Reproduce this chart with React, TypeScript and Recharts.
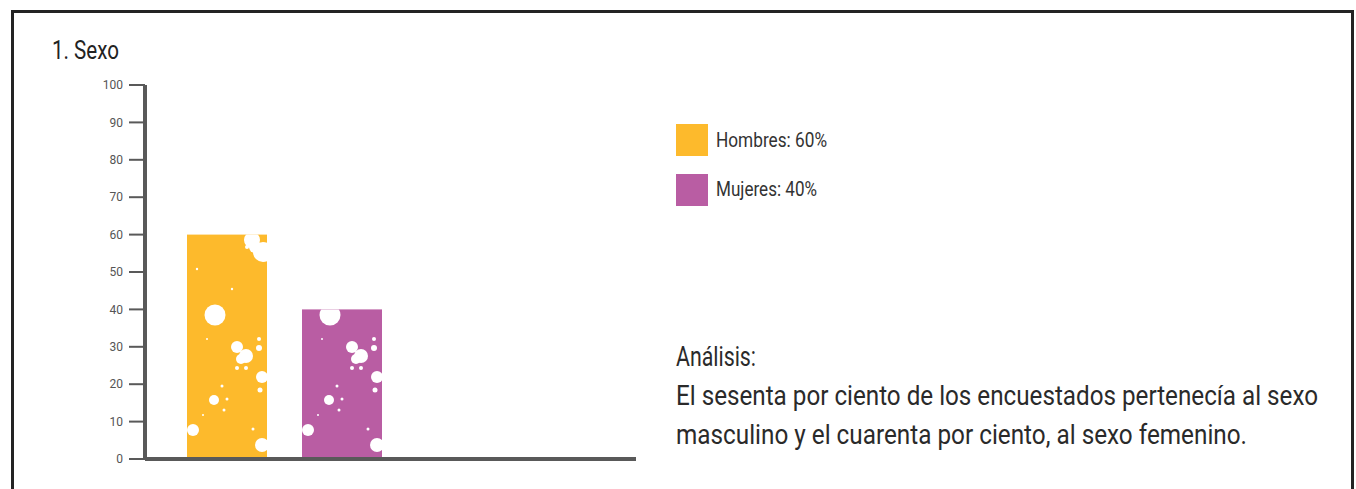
import { Bar, BarChart, XAxis, YAxis } from "recharts";

const grupo = "Sexo";
const series = ["Hombres", "Mujeres"];
const valores = [60, 40];
const colores = ["#FDBA2C", "#B95DA3"];
const yTicks = [0, 10, 20, 30, 40, 50, 60, 70, 80, 90, 100];
const titulo = "1. Sexo";
const analisis = [
  "Análisis:",
  "El sesenta por ciento de los encuestados pertenecía al sexo",
  "masculino y el cuarenta por ciento, al sexo femenino.",
];
// measured text widths in the reference (px)
const anchoLeyenda = [111, 101];
const anchoAnalisis = [80, 642, 571];

const data = [
  series.reduce<Record<string, string | number>>(
    (row, s, i) => ({ ...row, [s]: valores[i] }),
    { grupo }
  ),
];

// white paint splatter: [dx from bar left, dy from bar bottom, radius]
const splatter = [
  [28, -144, 10.5], [50, -112, 6], [59, -103, 7], [54, -100, 5], [75, -82, 6],
  [27, -59, 5], [6, -29, 6], [75, -14, 7], [72, -120, 2], [72, -111, 3],
  [50, -91, 2], [59, -91, 2], [73, -69, 2.5], [35, -73, 1.5], [40, -60, 1.5],
  [37, -49, 1.5], [16, -44, 1], [65, -219, 8], [76, -207, 10], [68, -212, 6],
  [60, -212, 2], [10, -190, 1.2], [45, -170, 1.2], [20, -120, 1], [66, -30, 1.5],
];

const font = "Roboto, 'DejaVu Sans', sans-serif";

function SplatBar(props: any) {
  const { x, y, width, height, fill } = props;
  if (!height) return null;
  const id = `clip-${Math.round(x)}`;
  const bottom = y + height;
  return (
    <g>
      <defs>
        <clipPath id={id}>
          <rect x={x} y={y} width={width} height={height} />
        </clipPath>
      </defs>
      <rect x={x} y={y} width={width} height={height} fill={fill} />
      <g clipPath={`url(#${id})`}>
        {splatter.map(([dx, dy, r], i) => (
          <circle key={i} cx={x + dx} cy={bottom + dy} r={r} fill="#fff" />
        ))}
      </g>
    </g>
  );
}

export default function App() {
  return (
    <div
      style={{
        position: "absolute",
        left: 0,
        top: 0,
        width: 1356,
        height: 489,
        overflow: "hidden",
        background: "#fff",
        fontFamily: font,
      }}
    >
      <div
        style={{
          position: "absolute",
          left: 11,
          top: 10,
          width: 1337,
          height: 520,
          border: "3px solid #232323",
        }}
      />

      <div style={{ position: "absolute", left: 0, top: 0 }}>
        <BarChart
          width={1356}
          height={489}
          data={data}
          barGap={35}
          margin={{ top: 85, right: 720, left: 85, bottom: 29 }}
        >
          <XAxis
            dataKey="grupo"
            tick={false}
            tickLine={false}
            height={1}
            padding={{ left: 0, right: 213 }}
            axisLine={{ stroke: "#595959", strokeWidth: 4 }}
          />
          <YAxis
            width={60}
            domain={[0, 100]}
            ticks={yTicks}
            interval={0}
            tickSize={16}
            tickMargin={6}
            axisLine={{ stroke: "#595959", strokeWidth: 4 }}
            tickLine={{ stroke: "#595959", strokeWidth: 2 }}
            tick={{ fontSize: 12, fill: "#555", fontFamily: font }}
          />
          {series.map((s, i) => (
            <Bar
              key={s}
              dataKey={s}
              fill={colores[i]}
              barSize={80}
              shape={SplatBar}
              isAnimationActive={false}
            />
          ))}
        </BarChart>
      </div>

      <svg
        width={1356}
        height={489}
        style={{ position: "absolute", left: 0, top: 0, pointerEvents: "none" }}
        fontFamily={font}
      >
        <text
          x={52}
          y={59}
          fontSize={26}
          fill="#222"
          textLength={67}
          lengthAdjust="spacingAndGlyphs"
        >
          {titulo}
        </text>

        {series.map((s, i) => (
          <g key={s}>
            <rect x={676} y={124 + i * 50} width={32} height={32} fill={colores[i]} />
            <text
              x={716}
              y={147 + i * 49}
              fontSize={21}
              fill="#333"
              textLength={anchoLeyenda[i]}
              lengthAdjust="spacingAndGlyphs"
            >
              {`${s}: ${valores[i]}%`}
            </text>
          </g>
        ))}

        {analisis.map((l, i) => (
          <g key={l} transform={`translate(676, ${366 + i * 39}) scale(1, 1.17)`}>
            <text
              x={0}
              y={0}
              fontSize={23}
              fill="#2a2a2a"
              textLength={anchoAnalisis[i]}
              lengthAdjust="spacingAndGlyphs"
            >
              {l}
            </text>
          </g>
        ))}
      </svg>
    </div>
  );
}
